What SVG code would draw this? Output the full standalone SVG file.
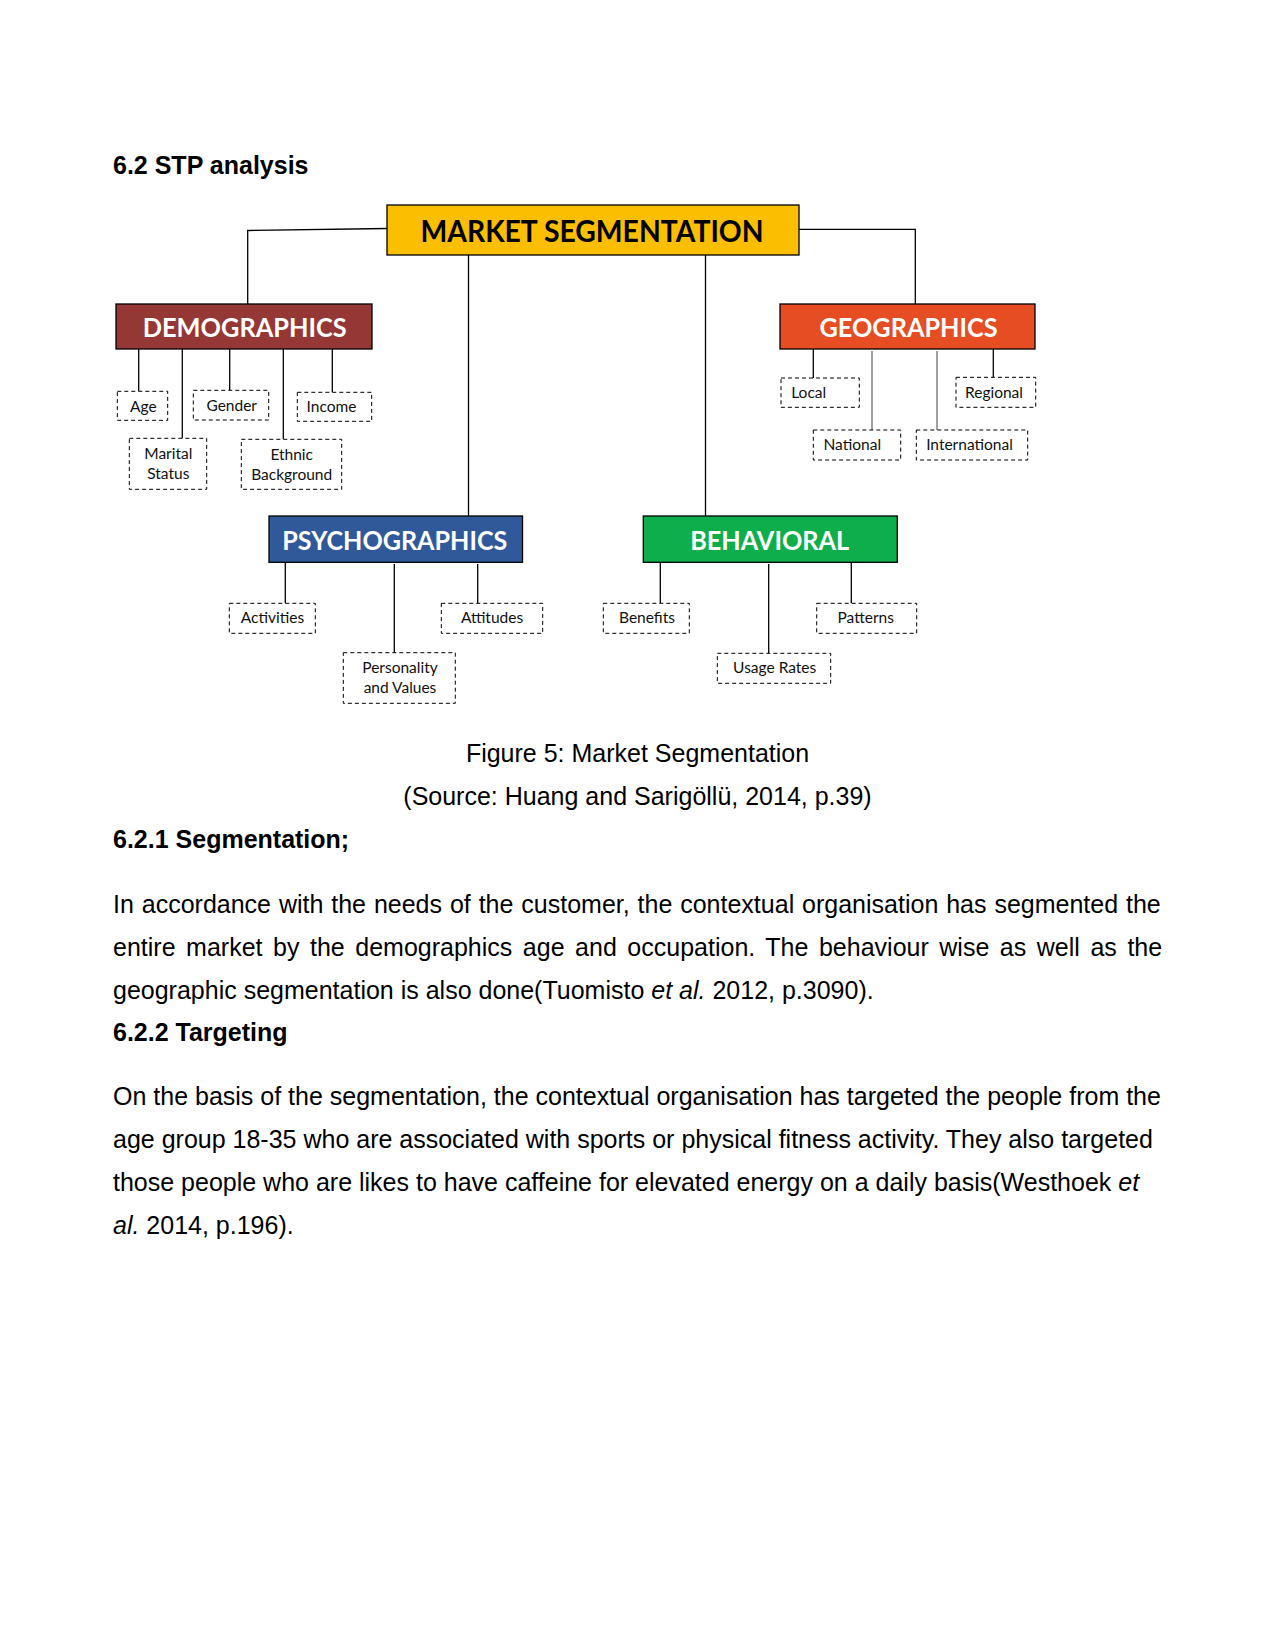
<svg xmlns="http://www.w3.org/2000/svg" width="1275" height="1650" viewBox="0 0 1275 1650">
<style>
  .page { font-family: "Liberation Sans", Arial, sans-serif; fill: #000; }
  .h { font-weight: bold; font-size: 25px; }
  .body { font-size: 25px; }
  .cap { font-size: 25px; text-anchor: middle; }
  .main { stroke: #000; stroke-width: 1.3; }
  .head { font-family: Lato, "Open Sans", sans-serif; font-weight: bold; text-anchor: middle; fill: #fff; }
  .leaf rect { fill: #fff; stroke: #000; stroke-width: 1; stroke-dasharray: 4 3; }
  .leaf text { font-family: Lato, "Open Sans", sans-serif; font-size: 15.5px; fill: #111; text-anchor: middle; }
  .conn line, .conn polyline { stroke: #000; stroke-width: 1.3; fill: none; }
  .conn .gray { stroke: #7f7f7f; stroke-width: 1.5; }
</style>
<rect width="1275" height="1650" fill="#fff"/>

<text class="page h" x="113" y="173.5">6.2 STP analysis</text>

<g class="conn" id="connectors">
  <polyline points="387,228.5 247.7,230.5 247.7,304"/>
  <polyline points="799,229.3 915.3,229.3 915.3,304"/>
  <line x1="468.5" y1="255" x2="468.5" y2="516"/>
  <line x1="705.5" y1="255" x2="705.5" y2="516"/>
  <line x1="138.7" y1="349" x2="138.7" y2="391"/>
  <line x1="182.3" y1="349" x2="182.3" y2="438.5"/>
  <line x1="229.7" y1="349" x2="229.7" y2="390.5"/>
  <line x1="283.3" y1="349" x2="283.3" y2="439.5"/>
  <line x1="332.3" y1="349" x2="332.3" y2="392.5"/>
  <line x1="813.3" y1="349" x2="813.3" y2="378"/>
  <line class="gray" x1="872" y1="351" x2="872" y2="430"/>
  <line class="gray" x1="937" y1="351" x2="937" y2="430"/>
  <line x1="993.3" y1="349" x2="993.3" y2="377.5"/>
  <line x1="285.3" y1="562" x2="285.3" y2="603.5"/>
  <line x1="394.3" y1="564" x2="394.3" y2="653"/>
  <line x1="477.7" y1="564" x2="477.7" y2="603.5"/>
  <line x1="660.3" y1="562" x2="660.3" y2="603.5"/>
  <line x1="768.7" y1="564" x2="768.7" y2="653.5"/>
  <line x1="851.3" y1="562" x2="851.3" y2="603.5"/>
</g>

<g id="market-segmentation">
  <rect class="main" x="387" y="205" width="412" height="50" fill="#FCBE00"/>
  <text class="head" x="592" y="242" font-size="30" style="fill:#000" textLength="343" lengthAdjust="spacingAndGlyphs">MARKET SEGMENTATION</text>
</g>
<g id="demographics">
  <rect class="main" x="116" y="304" width="256" height="45" fill="#953735"/>
  <text class="head" x="244.7" y="337" font-size="26" textLength="204" lengthAdjust="spacingAndGlyphs">DEMOGRAPHICS</text>
</g>
<g id="geographics">
  <rect class="main" x="780" y="304" width="255" height="45" fill="#E64D22"/>
  <text class="head" x="908.5" y="337" font-size="26" textLength="178" lengthAdjust="spacingAndGlyphs">GEOGRAPHICS</text>
</g>
<g id="psychographics">
  <rect class="main" x="269" y="516" width="253.5" height="46.3" fill="#30599A"/>
  <text class="head" x="394.8" y="550" font-size="26" textLength="225" lengthAdjust="spacingAndGlyphs">PSYCHOGRAPHICS</text>
</g>
<g id="behavioral">
  <rect class="main" x="643.3" y="516" width="254" height="46.3" fill="#0FAE4C"/>
  <text class="head" x="769.7" y="550" font-size="26" textLength="159" lengthAdjust="spacingAndGlyphs">BEHAVIORAL</text>
</g>

<g class="leaf" id="age"><rect x="117.3" y="391.3" width="50.4" height="29"/><text x="143.3" y="411.7">Age</text></g>
<g class="leaf" id="gender"><rect x="193.3" y="390.3" width="75.4" height="29.7"/><text x="231.7" y="411">Gender</text></g>
<g class="leaf" id="income"><rect x="297.3" y="392.3" width="74.4" height="29"/><text x="331.5" y="412">Income</text></g>
<g class="leaf" id="marital-status"><rect x="129.3" y="438.3" width="77.4" height="51"/><text x="168.3" y="459.3">Marital</text><text x="168.3" y="479.3">Status</text></g>
<g class="leaf" id="ethnic-background"><rect x="241.3" y="439.3" width="100.4" height="50"/><text x="291.7" y="460">Ethnic</text><text x="291.7" y="480">Background</text></g>

<g class="leaf" id="local"><rect x="781" y="378" width="78.3" height="29.3"/><text x="808.7" y="398.3">Local</text></g>
<g class="leaf" id="regional"><rect x="956" y="377.3" width="79.7" height="30"/><text x="994" y="398.3">Regional</text></g>
<g class="leaf" id="national"><rect x="813.3" y="430" width="87.4" height="30"/><text x="852.3" y="450">National</text></g>
<g class="leaf" id="international"><rect x="916.3" y="430" width="111.4" height="30"/><text x="969.5" y="450">International</text></g>

<g class="leaf" id="activities"><rect x="229.3" y="603.3" width="86" height="30"/><text x="272.5" y="623.3">Activities</text></g>
<g class="leaf" id="attitudes"><rect x="441.3" y="603.3" width="101.4" height="30"/><text x="492" y="623.3">Attitudes</text></g>
<g class="leaf" id="personality-values"><rect x="343.3" y="652.7" width="112" height="50.6"/><text x="400" y="673.3">Personality</text><text x="400" y="693.3">and Values</text></g>

<g class="leaf" id="benefits"><rect x="603.3" y="603.3" width="86" height="30"/><text x="647" y="623.3">Benefits</text></g>
<g class="leaf" id="patterns"><rect x="816.7" y="603.3" width="100" height="30"/><text x="865.7" y="623.3">Patterns</text></g>
<g class="leaf" id="usage-rates"><rect x="717.3" y="653.3" width="113.4" height="30"/><text x="774.7" y="673.3">Usage Rates</text></g>

<text class="page cap" x="637.5" y="762">Figure 5: Market Segmentation</text>
<text class="page cap" x="637.5" y="805">(Source: Huang and Sarigöllü, 2014, p.39)</text>

<text class="page h" x="113" y="848">6.2.1 Segmentation;</text>
<text class="page body" x="113" y="912.5" word-spacing="0.95">In accordance with the needs of the customer, the contextual organisation has segmented the</text>
<text class="page body" x="113" y="955.5" word-spacing="3.6">entire market by the demographics age and occupation. The behaviour wise as well as the</text>
<text class="page body" x="113" y="998.5">geographic segmentation is also done(Tuomisto <tspan font-style="italic">et al.</tspan> 2012, p.3090).</text>

<text class="page h" x="113" y="1041">6.2.2 Targeting</text>
<text class="page body" x="113" y="1105">On the basis of the segmentation, the contextual organisation has targeted the people from the</text>
<text class="page body" x="113" y="1148">age group 18-35 who are associated with sports or physical fitness activity. They also targeted</text>
<text class="page body" x="113" y="1191">those people who are likes to have caffeine for elevated energy on a daily basis(Westhoek <tspan font-style="italic">et</tspan></text>
<text class="page body" x="113" y="1234"><tspan font-style="italic">al.</tspan> 2014, p.196).</text>
</svg>
